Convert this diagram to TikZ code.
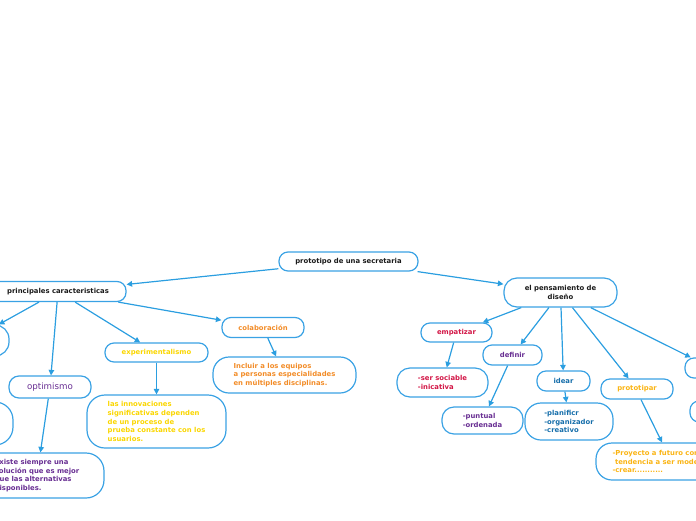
\documentclass[tikz,border=0pt]{standalone}
\usepackage{fontspec}
\setmainfont{DejaVu Sans}
\usetikzlibrary{arrows.meta}
\definecolor{lineblue}{RGB}{43,158,224}
\definecolor{boxblue}{RGB}{58,162,228}
\definecolor{txtblack}{RGB}{26,26,26}
\definecolor{txtpurple}{RGB}{104,46,146}
\definecolor{txtyellow}{RGB}{250,214,0}
\definecolor{txtorange}{RGB}{242,140,40}
\definecolor{txtred}{RGB}{210,22,70}
\definecolor{txtblue}{RGB}{22,110,170}
\definecolor{txtgold}{RGB}{250,180,20}
\tikzset{
  box/.style={draw=boxblue, line width=1.2pt, rounded corners=9pt, inner sep=0pt,
    align=center, font=\fontsize{6.85}{8.7}\selectfont\bfseries},
  leftbox/.style={box, align=left},
  link/.style={draw=lineblue, line width=1.2pt, -{Triangle[length=5.5pt,width=5.5pt]}}
}
\begin{document}
\begin{tikzpicture}[x=1pt,y=-1pt]
\useasboundingbox (0,0) rectangle (696,520);
\clip (0,0) rectangle (696,520);
% main nodes
\node[box, text=txtblack, minimum width=139pt, minimum height=19pt] (proto) at (348.5,261.5) {prototipo de una secretaria};
\node[box, text=txtblack, minimum width=136pt, minimum height=20pt] (princ) at (58,291.5) {principales caracteristicas};
\node[box, text=txtblack, minimum width=113pt, minimum height=29pt, rounded corners=13pt] (pens) at (560.5,292.5) {el pensamiento de\\diseño};
% left branch
\node[box, minimum width=78pt, minimum height=31pt, rounded corners=14pt] (leftA) at (-30,340.5) {};
\node[box, text=txtpurple, minimum width=82pt, minimum height=22pt, rounded corners=10pt, font=\fontsize{8.7}{10}\selectfont] (optim) at (50,387) {optimismo};
\node[box, minimum width=106pt, minimum height=43pt, rounded corners=18pt] (leftB) at (-40,423.5) {};
\node[leftbox, text=txtpurple, minimum width=134pt, minimum height=45pt, rounded corners=18pt] (existe) at (37,475.5) {existe siempre una\\solución que es mejor\\que las alternativas\\disponibles.};
\node[box, text=txtyellow, minimum width=103pt, minimum height=19pt] (exper) at (156.5,352.5) {experimentalismo};
\node[leftbox, text=txtyellow, minimum width=139pt, minimum height=53pt, rounded corners=18pt] (innov) at (156.5,421.5) {las innovaciones\\significativas dependen\\de un proceso de\\prueba constante con los\\usuarios.};
\node[box, text=txtorange, minimum width=82pt, minimum height=20pt] (colab) at (263,327.5) {colaboración};
\node[leftbox, text=txtorange, minimum width=143pt, minimum height=36pt, rounded corners=16pt] (incl) at (284.5,375) {Incluir a los equipos\\a personas especialidades\\en múltiples disciplinas.};
% right branch
\node[box, text=txtred, minimum width=71pt, minimum height=19pt] (empat) at (456.5,332.5) {empatizar};
\node[leftbox, text=txtred, minimum width=91pt, minimum height=29pt, rounded corners=13pt] (ser) at (442.5,382.5) {-ser sociable\\-inicativa};
\node[box, text=txtpurple, minimum width=59pt, minimum height=20pt] (defin) at (512.5,355) {definir};
\node[leftbox, text=txtpurple, minimum width=81pt, minimum height=27pt, rounded corners=12pt] (puntual) at (482.5,420.5) {-puntual\\-ordenada};
\node[box, text=txtblue, minimum width=53pt, minimum height=20pt] (idear) at (563.5,381) {idear};
\node[leftbox, text=txtblue, minimum width=88pt, minimum height=37pt, rounded corners=16pt] (planif) at (569,421.5) {-planificr\\-organizador\\-creativo};
\node[box, text=txtgold, minimum width=72pt, minimum height=20pt] (protot) at (637,389) {prototipar};
\node[leftbox, text=txtgold, minimum width=132pt, minimum height=37pt, rounded corners=16pt] (proyecto) at (662,461.5) {-Proyecto a futuro con\\\hspace*{2.5pt}tendencia a ser moderno\\-crear...........};
\node[box, minimum width=54pt, minimum height=20pt] (rightA) at (712,368) {};
\node[box, minimum width=70pt, minimum height=21pt] (rightB) at (725,411.5) {};
% connectors
\draw[link] (proto) -- (princ);
\draw[link] (proto) -- (pens);
\draw[link] (princ) -- (leftA);
\draw[link] (princ) -- (optim);
\draw[link] (princ) -- (exper);
\draw[link] (princ) -- (colab);
\draw[link] (optim) -- (existe);
\draw[link] (exper) -- (innov);
\draw[link] (colab) -- (incl);
\draw[link] (pens) -- (empat);
\draw[link] (pens) -- (defin);
\draw[link] (pens) -- (idear);
\draw[link] (pens) -- (protot);
\draw[link] (pens) -- (rightA);
\draw[link] (empat) -- (ser);
\draw[link] (defin) -- (puntual);
\draw[link] (idear) -- (planif);
\draw[link] ([xshift=4pt]protot.south) -- (proyecto.north);
\end{tikzpicture}
\end{document}
